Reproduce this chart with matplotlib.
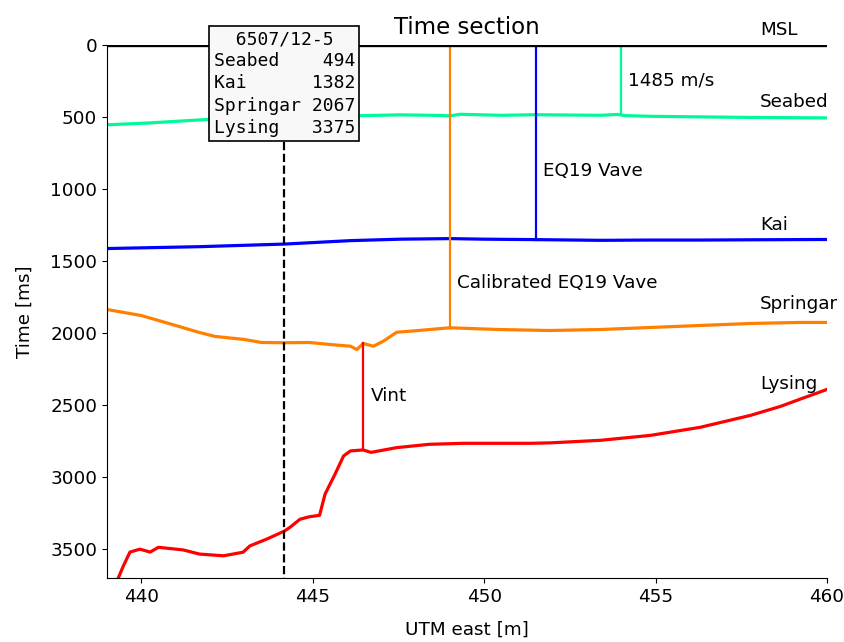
import numpy as np
import matplotlib
matplotlib.use("Agg")
import matplotlib.pyplot as plt

# horizon picks (UTM east in km, two-way time in ms)
seabed_x = [439.0, 440.25, 441.7, 443.2, 444.17, 446.1, 447.55, 448.7, 449.0, 449.3, 450.5, 451.5, 453.4, 453.9, 454.1, 454.85, 456.3, 457.8, 460.0]
seabed_t = [554, 541, 520, 506, 494, 492, 485, 489, 492, 481, 488, 484, 488, 482, 490, 495, 499, 503, 506]

kai_x = [439.0, 441.7, 444.17, 446.1, 447.55, 449.0, 450.0, 451.5, 453.4, 454.85, 456.3, 458.0, 460.0]
kai_t = [1413, 1400, 1382, 1358, 1348, 1344, 1348, 1351, 1356, 1354, 1354, 1352, 1350]

springar_x = [439.0, 440.0, 440.8, 441.7, 442.15, 443.0, 443.5, 444.17, 444.9, 445.5, 446.1, 446.29, 446.47, 446.77, 447.06, 447.45, 447.93, 449.0, 450.4, 451.9, 453.4, 454.85, 456.3, 457.8, 459.2, 460.0]
springar_t = [1836, 1878, 1933, 1996, 2023, 2044, 2065, 2067, 2065, 2079, 2091, 2114, 2072, 2091, 2056, 1994, 1985, 1963, 1975, 1982, 1975, 1961, 1947, 1933, 1926, 1926]

lysing_x = [439.33, 439.48, 439.67, 439.96, 440.26, 440.5, 441.22, 441.7, 442.4, 442.97, 443.17, 443.66, 444.17, 444.34, 444.63, 444.9, 445.2, 445.36, 445.65, 445.9, 446.1, 446.47, 446.7, 447.45, 448.4, 449.4, 450.5, 451.35, 451.93, 453.4, 454.85, 456.3, 457.77, 458.64, 459.2, 460.0]
lysing_t = [3700, 3615, 3520, 3500, 3520, 3487, 3505, 3534, 3546, 3521, 3477, 3430, 3375, 3348, 3292, 3275, 3265, 3118, 2980, 2853, 2818, 2811, 2828, 2795, 2772, 2765, 2765, 2765, 2762, 2744, 2710, 2654, 2571, 2509, 2460, 2391]

horizon_names = ["Seabed", "Kai", "Springar", "Lysing"]
horizon_colors = ["mediumspringgreen", "blue", "#ff8000", "red"]
label_x = 458.05
label_t = [-40, 455, 1315, 1862, 2418]  # MSL + horizons, bottom of text

well_name = "6507/12-5"
well_x = 444.17
well_picks = [494, 1382, 2067, 3375]

green_x = 454.0
blue_x = 451.5
orange_x = 449.0
vint_x = 446.47

fig = plt.figure(figsize=(8.45, 6.42), dpi=100)
ax = fig.add_axes([0.1266, 0.0997, 0.8521, 0.8302])

xs = [seabed_x, kai_x, springar_x, lysing_x]
ts = [seabed_t, kai_t, springar_t, lysing_t]

ax.axhline(0, color="black", lw=2.4, zorder=3)
for x, t, c in zip(xs, ts, horizon_colors):
    ax.plot(x, t, color=c, lw=2.3, zorder=2)

# velocity columns
ax.plot([green_x, green_x], [0, np.interp(green_x, seabed_x, seabed_t)], color="mediumspringgreen", lw=1.6)
ax.plot([blue_x, blue_x], [0, np.interp(blue_x, kai_x, kai_t)], color="blue", lw=1.6)
ax.plot([orange_x, orange_x], [0, np.interp(orange_x, springar_x, springar_t)], color="#ff8000", lw=1.6)
ax.plot([vint_x, vint_x], [np.interp(vint_x, springar_x, springar_t), np.interp(vint_x, lysing_x, lysing_t)],
        color="red", lw=1.6)

fs = 13.2
ax.text(454.2, 243, "1485 m/s", fontsize=fs, va="center")
ax.text(451.73, 873, "EQ19 Vave", fontsize=fs, va="center")
ax.text(449.2, 1649, "Calibrated EQ19 Vave", fontsize=fs, va="center")
ax.text(446.7, 2440, "Vint", fontsize=fs, va="center")

for name, t in zip(["MSL"] + horizon_names, label_t):
    ax.text(label_x, t, name, fontsize=fs, va="bottom", clip_on=False)

# well marker with pick table
ax.plot([well_x, well_x], [672, 3700], color="black", ls="--", lw=1.6, zorder=4)
rows = [f"{n:<8s} {v:4d}" for n, v in zip(horizon_names, well_picks)]
box_txt = well_name.center(len(rows[0])) + "\n" + "\n".join(rows)
ax.text(well_x, 267, box_txt, fontsize=13, family="DejaVu Sans Mono", ha="center", va="center",
        linespacing=1.3, zorder=5, clip_on=False,
        bbox=dict(boxstyle="square,pad=0.25", fc="#f8f8f8", ec="black", lw=1.2))

ax.set_xlim(439, 460)
ax.set_ylim(3700, 0)
ax.set_xticks([440, 445, 450, 455, 460])
ax.set_yticks(np.arange(0, 3501, 500))
ax.tick_params(labelsize=fs)
ax.spines["top"].set_visible(False)
ax.spines["right"].set_visible(False)
ax.set_xlabel("UTM east [m]", fontsize=fs, labelpad=11)
ax.set_ylabel("Time [ms]", fontsize=fs, labelpad=12)
ax.set_title("Time section", fontsize=16.5, pad=8)

fig.savefig("out.png", dpi=100)
